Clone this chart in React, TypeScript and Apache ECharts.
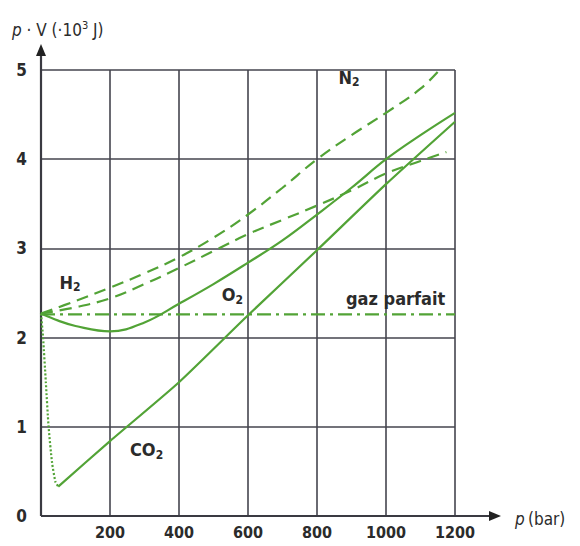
import React, { useEffect, useRef } from "react";
import * as echarts from "echarts";

const xTicks = [0, 200, 400, 600, 800, 1000, 1200];
const yTicks = [0, 1, 2, 3, 4, 5];

const n2Data = [[0, 2.27], [100, 2.41], [200, 2.56], [300, 2.72], [400, 2.9], [500, 3.12], [600, 3.38], [700, 3.68], [800, 4.0], [900, 4.27], [1000, 4.52], [1100, 4.79], [1155, 5.0]];
const h2Data = [[0, 2.27], [100, 2.34], [200, 2.44], [300, 2.6], [400, 2.78], [500, 2.97], [600, 3.16], [700, 3.32], [800, 3.48], [900, 3.65], [1000, 3.84], [1100, 3.98], [1175, 4.08]];
const o2Data = [[0, 2.27], [50, 2.19], [100, 2.13], [200, 2.07], [300, 2.17], [400, 2.38], [500, 2.6], [600, 2.84], [700, 3.09], [800, 3.38], [900, 3.68], [1000, 4.0], [1100, 4.27], [1200, 4.52]];
const co2DottedData = [[0, 2.27], [6, 2.0], [14, 1.5], [22, 1.0], [32, 0.6], [42, 0.38], [50, 0.33]];
const co2Data = [[50, 0.33], [200, 0.84], [400, 1.5], [600, 2.25], [800, 2.98], [1000, 3.72], [1200, 4.42]];
const idealData = [[0, 2.26], [1200, 2.26]];

const curveLabels = [
  { name: "H", sub: "2", at: [84, 2.62] },
  { name: "N", sub: "2", at: [893, 4.92] },
  { name: "O", sub: "2", at: [555, 2.48] },
  { name: "gaz parfait", sub: "", at: [1028, 2.44] },
  { name: "CO", sub: "2", at: [306, 0.74] },
];

const GREEN = "#52a336";
const FONT = "'Liberation Sans Narrow', 'DejaVu Sans Condensed', sans-serif";
const INK = "#2b2b2b";

export default function App() {
  const ref = useRef<HTMLDivElement>(null);
  useEffect(() => {
    document.body.style.margin = "0";
    const chart = echarts.init(ref.current!, undefined, { renderer: "svg" });
    const lineSeries = (data: number[][], type: any, smooth = 0.4) => ({
      type: "line",
      data,
      smooth,
      showSymbol: false,
      symbol: "none",
      clip: true,
      lineStyle: { color: GREEN, width: 2.2, type },
    });
    chart.setOption({
      animation: false,
      grid: { left: 41, right: 125, top: 70, bottom: 30 },
      xAxis: {
        type: "value",
        min: 0,
        max: 1200,
        interval: 200,
        axisLine: { show: false },
        axisTick: { show: false },
        splitLine: { show: true, lineStyle: { color: "#45454e", width: 1.6 } },
        axisLabel: {
          color: INK,
          fontFamily: FONT,
          fontSize: 16,
          fontWeight: 600,
          margin: 8,
          formatter: (v: number) => (v === 0 ? "" : String(v)),
        },
      },
      yAxis: {
        type: "value",
        min: 0,
        max: 5,
        interval: 1,
        axisLine: { show: false },
        axisTick: { show: false },
        splitLine: { show: true, lineStyle: { color: "#45454e", width: 1.6 } },
        axisLabel: {
          color: INK,
          fontFamily: FONT,
          fontSize: 17,
          fontWeight: "bold",
          margin: 14,
          formatter: (v: number) => String(v),
        },
      },
      series: [
        lineSeries(idealData, [14, 5, 3, 5], 0),
        lineSeries(n2Data, [12, 7]),
        lineSeries(h2Data, [12, 7]),
        lineSeries(o2Data, "solid"),
        lineSeries(co2DottedData, [2, 2], 0.2),
        lineSeries(co2Data, "solid", 0.2),
      ],
    });

    const px = (p: number[]) => chart.convertToPixel({ gridIndex: 0 }, p) as number[];
    const o = px([0, 0]);
    const xEnd = px([1200, 0]);
    const yEnd = px([0, 5]);
    const axisStyle = { stroke: "#3a3a42", lineWidth: 2.2 };
    const graphics: any[] = [
      { type: "line", shape: { x1: o[0], y1: o[1], x2: xEnd[0] + 38, y2: o[1] }, style: axisStyle },
      { type: "polygon", shape: { points: [[xEnd[0] + 46, o[1]], [xEnd[0] + 34, o[1] - 5], [xEnd[0] + 34, o[1] + 5]] }, style: { fill: "#222" } },
      { type: "line", shape: { x1: o[0], y1: o[1], x2: o[0], y2: yEnd[1] - 16 }, style: axisStyle },
      { type: "polygon", shape: { points: [[o[0], yEnd[1] - 26], [o[0] - 5, yEnd[1] - 14], [o[0] + 5, yEnd[1] - 14]] }, style: { fill: "#222" } },
      {
        type: "text",
        x: 12,
        y: 20,
        style: {
          text: "{i|p}{n| · V (·10}{s|3}{n| J)}",
          rich: {
            i: { fontFamily: FONT, fontSize: 17, fontStyle: "italic", fill: INK },
            n: { fontFamily: FONT, fontSize: 17, fill: INK },
            s: { fontFamily: FONT, fontSize: 11, fill: INK, padding: [0, 0, 8, 0] },
          },
        },
      },
      {
        type: "text",
        x: xEnd[0] + 60,
        y: o[1] + 3,
        style: {
          text: "{i|p} {n|(bar)}",
          verticalAlign: "middle",
          rich: {
            i: { fontFamily: FONT, fontSize: 17, fontStyle: "italic", fill: INK },
            n: { fontFamily: FONT, fontSize: 17, fill: INK },
          },
        },
      },
    ];
    curveLabels.forEach((l) => {
      const p = px(l.at);
      graphics.push({
        type: "text",
        x: p[0],
        y: p[1],
        style: {
          text: l.sub ? `{n|${l.name}}{s|${l.sub}}` : `{n|${l.name}}`,
          align: "center",
          verticalAlign: "middle",
          rich: {
            n: { fontFamily: FONT, fontSize: 18, fontWeight: 600, fill: INK },
            s: { fontFamily: FONT, fontSize: 12, fontWeight: 600, fill: INK, padding: [10, 0, 0, 0] },
          },
        },
      });
    });
    chart.setOption({ graphic: graphics });
    return () => chart.dispose();
  }, []);
  return <div ref={ref} style={{ width: 580, height: 546 }} />;
}
